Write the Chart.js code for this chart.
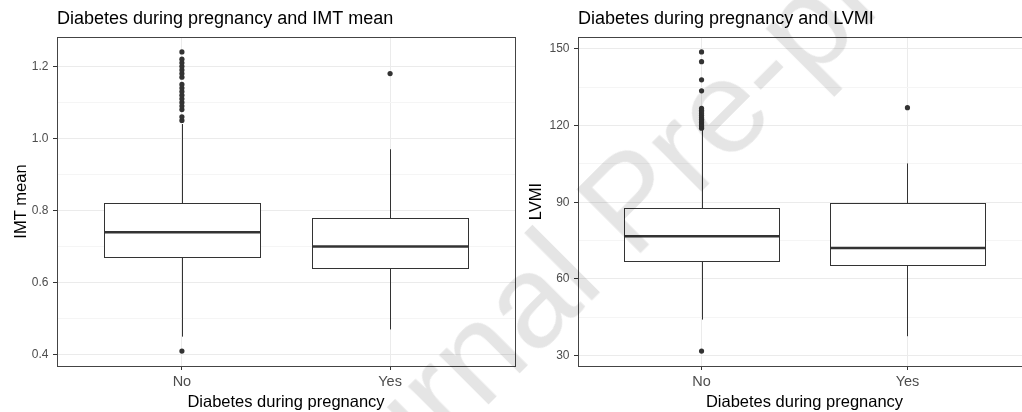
<!DOCTYPE html>
<html>
<head>
<meta charset="utf-8">
<script src="https://cdn.jsdelivr.net/npm/chart.js@4.4.1/dist/chart.umd.min.js"></script>
<style>
  html, body { margin: 0; padding: 0; background: #fff; width: 1022px; height: 412px; overflow: hidden; position: relative; }
  canvas { position: absolute; top: 0; }
  #imtPanel { left: 0; }
  #lvmiPanel { left: 522px; }
  #watermark {
    position: absolute; left: 222px; top: 514px;
    font: 132px/1 "Liberation Sans", Arial, sans-serif;
    color: rgba(0, 0, 0, 0.1);
    white-space: nowrap; pointer-events: none;
    transform-origin: 0 0; transform: rotate(-45deg);
  }
</style>
</head>
<body>
<canvas id="imtPanel" width="522" height="412"></canvas>
<canvas id="lvmiPanel" width="520" height="412"></canvas>
<div id="watermark">Journal Pre-proof</div>
<script>
// Groups on the x axis
const categories = ['No', 'Yes'];

// IMT mean: box-plot summaries per group (No, Yes)
const imtLowerWhisker = [0.45, 0.47];
const imtQ1 = [0.67, 0.64];
const imtMedian = [0.74, 0.70];
const imtQ3 = [0.82, 0.78];
const imtUpperWhisker = [1.04, 0.97];
const imtOutliersNo = [0.41, 1.05, 1.06, 1.08, 1.09, 1.10, 1.11, 1.12, 1.13, 1.14, 1.15, 1.17, 1.18, 1.19, 1.20, 1.21, 1.22, 1.24];
const imtOutliersYes = [1.18];
const imtTicks = [0.4, 0.6, 0.8, 1.0, 1.2];
const imtTickLabels = ['0.4', '0.6', '0.8', '1.0', '1.2'];
const imtMinorTicks = [0.5, 0.7, 0.9, 1.1];

// LVMI: box-plot summaries per group (No, Yes)
const lvmiLowerWhisker = [44.1, 37.6];
const lvmiQ1 = [67.1, 65.3];
const lvmiMedian = [76.7, 72.1];
const lvmiQ3 = [87.6, 89.6];
const lvmiUpperWhisker = [118.3, 105.2];
const lvmiOutliersNo = [31.8, 119.0, 119.5, 120.0, 120.6, 121.2, 121.8, 122.5, 123.2, 124.0, 124.7, 125.4, 126.0, 126.7, 133.6, 137.9, 145.0, 148.8];
const lvmiOutliersYes = [127.0];
const lvmiTicks = [30, 60, 90, 120, 150];
const lvmiTickLabels = ['30', '60', '90', '120', '150'];
const lvmiMinorTicks = [45, 75, 105, 135];

Chart.defaults.font.family = '"Liberation Sans", Arial, sans-serif';

const INK = '#333333';
const BOX_HALF_WIDTH = 0.375;

// Draws whiskers, boxes and medians through the chart's own scales,
// then the panel frame on top.
const boxPlotPlugin = {
  id: 'boxes',
  beforeDatasetsDraw(chart, args, opts) {
    const { ctx, scales: { x, y } } = chart;
    const crisp = v => Math.round(v) + 0.5;
    ctx.save();
    ctx.strokeStyle = INK;
    opts.median.forEach((med, i) => {
      const pos = i + 1;
      const cx = crisp(x.getPixelForValue(pos));
      const left = crisp(x.getPixelForValue(pos - BOX_HALF_WIDTH));
      const right = crisp(x.getPixelForValue(pos + BOX_HALF_WIDTH));
      const yLow = y.getPixelForValue(opts.lower[i]);
      const yQ1 = crisp(y.getPixelForValue(opts.q1[i]));
      const yQ3 = crisp(y.getPixelForValue(opts.q3[i]));
      const yHigh = y.getPixelForValue(opts.upper[i]);
      const yMed = y.getPixelForValue(med);

      ctx.lineWidth = 1;
      ctx.beginPath();
      ctx.moveTo(cx, yQ3); ctx.lineTo(cx, yHigh);
      ctx.moveTo(cx, yQ1); ctx.lineTo(cx, yLow);
      ctx.stroke();

      ctx.fillStyle = '#ffffff';
      ctx.fillRect(left, yQ3, right - left, yQ1 - yQ3);
      ctx.strokeRect(left, yQ3, right - left, yQ1 - yQ3);

      ctx.lineWidth = 2.5;
      ctx.beginPath();
      ctx.moveTo(left, yMed); ctx.lineTo(right, yMed);
      ctx.stroke();
    });
    ctx.restore();
  },
  afterDatasetsDraw(chart) {
    const { ctx, chartArea: a } = chart;
    ctx.save();
    ctx.strokeStyle = '#444444';
    ctx.lineWidth = 1;
    ctx.strokeRect(Math.round(a.left) + 0.5, Math.round(a.top) + 0.5,
                   Math.round(a.right - a.left), Math.round(a.bottom - a.top));
    ctx.restore();
  }
};

function buildPanel(canvasId, p) {
  const all = [...p.lower, ...p.upper, ...p.outNo, ...p.outYes];
  const lo = Math.min(...all), hi = Math.max(...all);
  const expand = (hi - lo) * 0.05;
  const yTicks = [...p.ticks, ...p.minor].sort((a, b) => a - b);
  const majorIndex = v => p.ticks.findIndex(t => Math.abs(t - v) < 1e-9);

  const points = [
    ...p.outNo.map(v => ({ x: 1, y: v })),
    ...p.outYes.map(v => ({ x: 2, y: v }))
  ];

  return new Chart(document.getElementById(canvasId), {
    type: 'scatter',
    data: {
      datasets: [{
        data: points,
        pointRadius: 2.6,
        pointBackgroundColor: INK,
        pointBorderWidth: 0
      }]
    },
    options: {
      responsive: false,
      animation: false,
      events: [],
      layout: { padding: { left: 0, right: p.padRight, top: 0, bottom: 0 } },
      plugins: {
        legend: { display: false },
        tooltip: { enabled: false },
        title: {
          display: true, text: p.title, align: 'start', fullSize: false,
          color: '#000', font: { size: 18, weight: 'normal' },
          padding: { top: 8, bottom: 7.4 }
        },
        boxes: { lower: p.lower, q1: p.q1, median: p.median, q3: p.q3, upper: p.upper }
      },
      scales: {
        x: {
          type: 'linear', min: 0.4, max: 2.6, bounds: 'data',
          afterBuildTicks: s => { s.ticks = categories.map((c, i) => ({ value: i + 1 })); },
          afterFit: s => { s.height = 46; },
          ticks: {
            callback: v => categories[Math.round(v) - 1],
            color: '#4d4d4d', font: { size: 14.5 }, padding: 3,
            autoSkip: false, maxRotation: 0
          },
          grid: { color: '#ebebeb', tickColor: INK, tickLength: 4 },
          border: { display: false },
          title: {
            display: true, text: 'Diabetes during pregnancy', color: '#000',
            font: { size: 16.5 }, padding: { top: 0, bottom: 0 }
          }
        },
        y: {
          type: 'linear', min: lo - expand, max: hi + expand, bounds: 'data',
          afterBuildTicks: s => { s.ticks = yTicks.map(v => ({ value: v })); },
          afterFit: s => { s.width = p.axisWidth; },
          ticks: {
            callback: v => { const k = majorIndex(v); return k >= 0 ? p.labels[k] : ''; },
            color: '#4d4d4d', font: { size: 12 }, padding: 4.5, autoSkip: false
          },
          grid: {
            color: c => (c.tick && majorIndex(c.tick.value) >= 0) ? '#ebebeb' : '#f5f5f5',
            tickColor: c => (c.tick && majorIndex(c.tick.value) >= 0) ? INK : 'rgba(0,0,0,0)',
            tickLength: 4
          },
          border: { display: false },
          title: {
            display: true, text: p.yTitle, color: '#000',
            font: { size: 16.5 }, padding: { top: p.yTitlePad, bottom: 0 }
          }
        }
      }
    },
    plugins: [boxPlotPlugin]
  });
}

buildPanel('imtPanel', {
  title: 'Diabetes during pregnancy and IMT mean',
  yTitle: 'IMT mean',
  lower: imtLowerWhisker, q1: imtQ1, median: imtMedian, q3: imtQ3, upper: imtUpperWhisker,
  outNo: imtOutliersNo, outYes: imtOutliersYes,
  ticks: imtTicks, labels: imtTickLabels, minor: imtMinorTicks,
  axisWidth: 57, padRight: 7, yTitlePad: 11.5
});

buildPanel('lvmiPanel', {
  title: 'Diabetes during pregnancy and LVMI',
  yTitle: 'LVMI',
  lower: lvmiLowerWhisker, q1: lvmiQ1, median: lvmiMedian, q3: lvmiQ3, upper: lvmiUpperWhisker,
  outNo: lvmiOutliersNo, outYes: lvmiOutliersYes,
  ticks: lvmiTicks, labels: lvmiTickLabels, minor: lvmiMinorTicks,
  axisWidth: 56, padRight: 11, yTitlePad: 5
});
</script>
</body>
</html>
